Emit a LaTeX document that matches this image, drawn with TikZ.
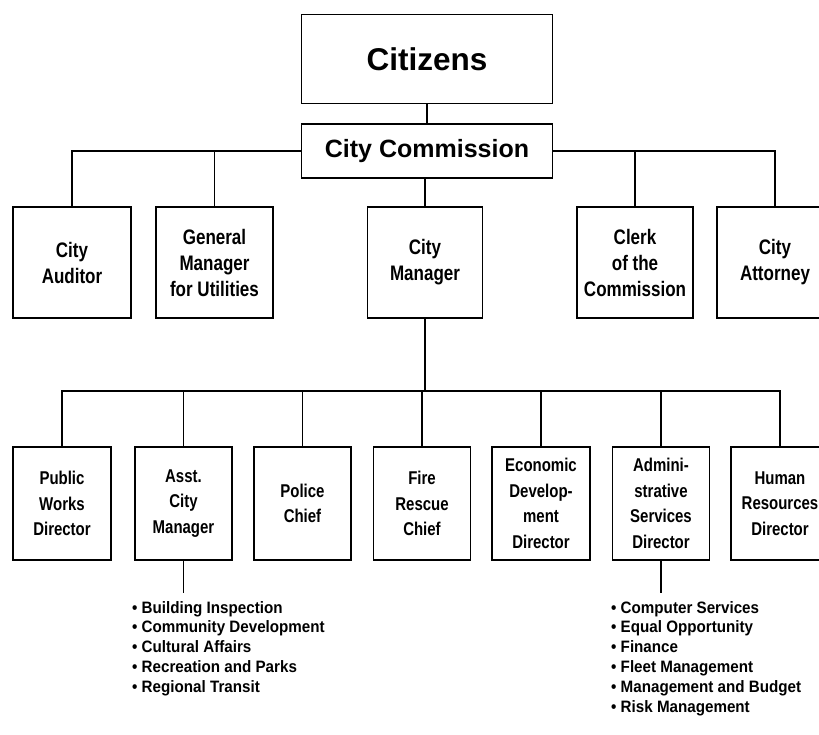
\documentclass[tikz,border=0pt]{standalone}
\usepackage{fontspec}
\setmainfont{Liberation Sans}
\newfontfamily\boxfont[FakeStretch=0.81]{Liberation Sans}
\newfontfamily\listfont[FakeStretch=0.92]{Liberation Sans}
\begin{document}
\begin{tikzpicture}[x=1pt,y=-1pt,
  box/.style={draw, line width=1.6pt, inner sep=0pt, align=center},
  top/.style={box, minimum width=251pt},
  rowtwo/.style={box, minimum width=117pt, minimum height=111pt,
    font=\boxfont\bfseries\fontsize{21}{26}\selectfont},
  rowthree/.style={box, minimum width=98pt, minimum height=113pt,
    font=\boxfont\bfseries\fontsize{18.5}{25.5}\selectfont},
  link/.style={line width=1.2pt},
  duties/.style={anchor=north west, align=left, inner sep=0pt,
    font=\listfont\bfseries\fontsize{16.5}{19.8}\selectfont}]
\useasboundingbox (0,0) rectangle (819,735);
\begin{scope}
\clip (0,0) rectangle (819,735);

% top of the chart
\node[top, minimum height=89pt, font=\bfseries\fontsize{31.5}{34}\selectfont] (cit) at (427,59) {Citizens};
\node[top, minimum height=54pt, font=\bfseries\fontsize{25}{28}\selectfont] (com) at (427,151) {City Commission};

% officers reporting to the commission
\node[rowtwo, minimum width=118pt] (aud) at (72,262.5) {City\\Auditor};
\node[rowtwo] (gmu) at (214.5,262.5) {General\\Manager\\for Utilities};
\node[rowtwo, minimum width=115pt] (cm) at (425,262.5) {City\\Manager};
\node[rowtwo, minimum width=116pt] (clk) at (635,262.5) {Clerk\\of the\\Commission};
\node[rowtwo, minimum width=116pt] (att) at (775,262.5) {City\\Attorney};

% departments under the city manager
\node[rowthree] (pw) at (62,503.5) {Public\\Works\\Director};
\node[rowthree, minimum width=97pt] (acm) at (183.5,503.5) {Asst.\\City\\Manager};
\node[rowthree, minimum width=97pt] (pol) at (302.5,503.5) {Police\\Chief};
\node[rowthree, minimum width=97pt] (fire) at (422,503.5) {Fire\\Rescue\\Chief};
\node[rowthree] (eco) at (541,503.5) {Economic\\Develop-\\ment\\Director};
\node[rowthree, minimum width=97pt] (adm) at (661,503.5) {Admini-\\strative\\Services\\Director};
\node[rowthree, minimum width=98pt] (hr) at (780,503.5) {Human\\Resources\\Director};

% connectors
\coordinate (bus) at (425,391);
\draw[link] (cit) -- (com);
\draw[link] (com.west) -| (aud.north);
\draw[link] (com.west) -| (gmu.north);
\draw[link] (cm.north) -- (cm.north |- com.south);
\draw[link] (com.east) -| (clk.north);
\draw[link] (com.east) -| (att.north);
\draw[link] (cm) -- (bus);
\foreach \d in {pw,acm,pol,fire,eco,adm,hr}
  \draw[link] (bus) -| (\d.north);

% duty lists
\coordinate (acmend) at (183.5,593);
\coordinate (admend) at (661,593);
\draw[link] (acm) -- (acmend);
\draw[link] (adm) -- (admend);
\node[duties] (acmlist) at (132,601) {• Building Inspection\\• Community Development\\• Cultural Affairs\\• Recreation and Parks\\• Regional Transit};
\node[duties] (admlist) at (611,601) {• Computer Services\\• Equal Opportunity\\• Finance\\• Fleet Management\\• Management and Budget\\• Risk Management};
\end{scope}
\end{tikzpicture}
\end{document}
